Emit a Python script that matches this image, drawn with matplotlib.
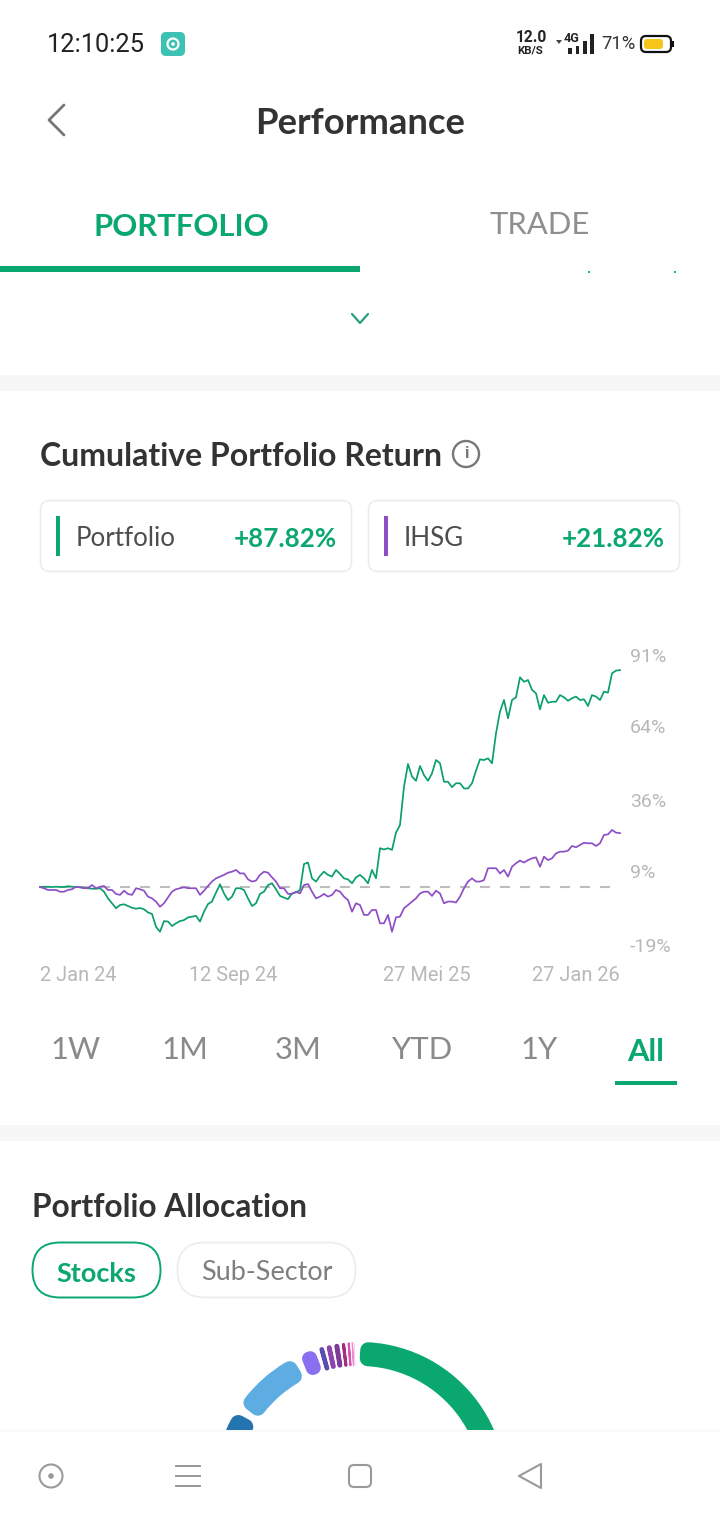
import numpy as np
import matplotlib
matplotlib.use("Agg")
import matplotlib.pyplot as plt
from matplotlib.patches import FancyBboxPatch, Wedge, Circle, Rectangle, Polygon

# ---------- data ----------
portfolio_pct = [
    0, .1, .1, 0, .1, 0, 0, .3, .1, 0,
    -.1, -.3, -.5, -.7, -.7, -.5, -1.9, -4.6, -6.6, -8.6,
    -7.3, -7.0, -7.7, -8.4, -8.8, -8.5, -9.0, -10.3, -10.9, -16.1,
    -18.1, -13.8, -14.0, -15.8, -14.7, -13.8, -13.4, -12.3, -12.0, -11.7,
    -14.0, -10.0, -6.9, -5.9, -2.3, 1.1, -2.6, -5.3, -3.9, -.5,
    -.5, -1.2, -4.6, -7.7, -6.6, -2.8, -1.9, .8, 1.5, -.9,
    -3.6, -4.3, -4.9, -2.6, -2.2, -1.2, 9.3, 9.9, 3.5, 2.2,
    4.5, 6.2, 4.9,
    4.2, 6.9, 5.3, 3.5, 3.1, 1.5, 3.9, 4.9, 3.5, 1.5,
    6.9, 3.5, 15.7, 15.2, 15.7, 15.0, 22.0, 25.1, 40.6, 49.8,
    44.7, 43.0, 49.0, 45.3, 43.0, 46.0, 51.4, 50.1, 42.6, 42.6,
    40.4, 42.0, 42.0, 39.9, 39.9, 42.0, 47.1, 51.7, 51.4, 52.1,
    50.1, 62.2, 71.0, 75.7, 68.3, 75.7, 76.8, 84.9, 83.1, 83.8,
    79.8, 78.4, 71.9, 77.7, 74.6, 75.0, 75.0, 77.7, 76.8, 75.4,
    76.4, 77.1, 75.7, 76.0, 73.3, 77.7, 77.1, 75.7, 79.1, 78.7,
    86.5, 87.6, 87.82,
]
ihsg_pct = [
    0, -.5, -1.2, -1.2, -1.2, -1.9, -1.9, -1.2, -.9, .1,
    -.1, -.5, -.5, .8, -.5, .1, .4, -1.2, -1.2, -2.8,
    -3.2, -1.5, -2.8, -3.2, -.5, -.9, -1.5, -3.9, -4.6, -5.9,
    -8.0, -6.6, -4.2, -1.9, -.9, -.5, -.1, -.5, -.5, -.5,
    -3.2, -1.5, .4, 2.2, 3.5, 4.2, 4.9, 5.8, 6.2, 6.9,
    5.5, 5.5, 3.1, 2.2, 2.6, 4.9, 6.2, 5.8, 3.9, 2.2,
    -.5, -.5, -2.8, -2.8, -1.9, -2.6, .8, 1.2, -1.9, -4.6,
    -3.9, -2.8, -3.9,
    -3.2, -1.2, -1.9, -3.9, -5.3, -10.0, -6.6, -7.3, -11.3, -11.3,
    -9.3, -9.3, -14.7, -14.7, -11.3, -18.1, -12.3, -12.0, -8.6, -7.3,
    -5.9, -4.6, -2.6, -1.9, -1.9, -3.6, -1.5, -2.6, -6.6, -5.9,
    -5.9, -6.3, -3.9, -.5, 2.2, 3.5, 2.2, 2.2, 2.8, 7.6,
    7.6, 7.6, 5.5, 6.9, 4.2, 8.2, 9.6, 10.7, 9.9, 10.9,
    11.6, 12.0, 8.2, 12.3, 10.9, 11.6, 13.6, 14.3, 14.3, 14.7,
    16.6, 16.1, 17.0, 17.9, 17.7, 17.7, 16.6, 17.7, 21.1, 21.3,
    23.1, 22.0, 21.82,
]
date_labels = ["2 Jan 24", "12 Sep 24", "27 Mei 25", "27 Jan 26"]
y_labels = [91, 64, 36, 9, -19]
ranges = ["1W", "1M", "3M", "YTD", "1Y", "All"]
alloc_share = [58.3, 25.9, 8.7, 2.4, .83, .86, .86, .66, .5, .3, .09]
alloc_colors = ["#0aa86f", "#2474b0", "#5dade2", "#8a70f0", "#5b4db0", "#8e44ad",
                "#7d3c98", "#a0307f", "#e04fb0", "#f08ad0", "#f8c8e8"]

GREEN = "#0aa86f"
LINEG = "#0a9f6c"
PURPLE = "#8e4ec6"
DARK = "#333333"
TICK = "#b8b8b8"
UI = "Lato"
NUM = "Roboto"
PT = 0.72

W, H = 720, 1520
fig = plt.figure(figsize=(W / 100, H / 100), dpi=100, facecolor="white")

def box(x0, y0, x1, y1):
    return [x0 / W, 1 - y1 / H, (x1 - x0) / W, (y1 - y0) / H]

ui = fig.add_axes([0, 0, 1, 1], zorder=0)
ui.set_xlim(0, W); ui.set_ylim(H, 0); ui.axis("off")

def txt(x, y, s, size, color=DARK, weight="normal", ha="left", family=UI, **kw):
    dy = 4 if family == UI else 2
    return ui.text(x, y + dy, s, fontsize=size * PT, color=color, fontweight=weight, ha=ha,
                   va="center", family=family, **kw)

def rrect(x0, y0, x1, y1, r, fc="white", ec="none", lw=1.0, z=1):
    p = FancyBboxPatch((x0 + r, y0 + r), x1 - x0 - 2 * r, y1 - y0 - 2 * r,
                       boxstyle=f"round,pad={r},rounding_size={r}", fc=fc, ec=ec, lw=lw, zorder=z)
    ui.add_patch(p)
    return p

# ---------- status bar ----------
txt(47, 43, "12:10:25", 25.5, color="#222222", family=NUM)
rrect(161, 32, 185, 56, 5, fc="#3cc2b4")
ui.add_patch(Circle((173, 44), 5.5, fc="none", ec="white", lw=1.6, zorder=2))
ui.add_patch(Circle((173, 44), 1.8, fc="white", ec="none", zorder=2))
txt(516, 36, "12.0", 15.5, color="#222222", weight="bold", family=NUM)
txt(517, 49, "KB/S", 11.5, color="#222222", weight="bold", family=NUM)
txt(564, 37, "4G", 12.5, color="#222222", weight="bold", family=NUM)
ui.add_patch(Polygon([[556, 40], [562, 40], [559, 44]], fc="#444444", ec="none"))
for x0, y0 in [(568, 48), (575.5, 46), (583, 41), (590, 34)]:
    ui.add_patch(Rectangle((x0, y0), 3.6, 53.5 - y0, fc="#222222", ec="none"))
txt(601, 42, "71%", 18.5, color="#333333", family=NUM)
rrect(641, 36, 671, 52, 5, fc="white", ec="#111111", lw=1.6)
rrect(644, 39, 663, 49, 3, fc="#f5c518")
ui.add_patch(Rectangle((672, 41), 2, 6, fc="#111111", ec="none"))

# ---------- header ----------
ui.plot([64, 49, 64], [105, 120, 135], color="#777777", lw=2.0, solid_capstyle="round", solid_joinstyle="round")
txt(360, 120, "Performance", 36.5, weight="bold", ha="center", color="#333333")
txt(181, 223, "PORTFOLIO", 31, color=GREEN, weight="bold", ha="center")
txt(540, 221, "TRADE", 31, color="#8f8f8f", ha="center")
ui.add_patch(Rectangle((0, 266), 360, 6, fc=GREEN, ec="none"))
for x in (589, 675):
    ui.add_patch(Rectangle((x - 1, 271), 2, 2, fc="#3aa98a", ec="none"))
ui.plot([352, 360, 368], [314, 323, 314], color="#2a9d7c", lw=1.6, solid_capstyle="round")
ui.add_patch(Rectangle((0, 375), W, 16, fc="#f7f7f7", ec="none"))
ui.add_patch(Rectangle((0, 1125), W, 16, fc="#f7f7f7", ec="none"))

# ---------- section heading / cards ----------
txt(40, 453, "Cumulative Portfolio Return", 32, weight="bold")
ui.add_patch(Circle((466, 454), 13, fc="none", ec="#777777", lw=1.7))
ui.text(466, 454, "i", fontsize=17 * PT, color="#777777", ha="center", va="center", family=NUM, fontweight="bold")

for x0, x1, col, name, val in [(40, 352, GREEN, "Portfolio", "+87.82%"),
                               (368, 680, PURPLE, "IHSG", "+21.82%")]:
    rrect(x0 + .5, 500.5, x1 - .5, 571.5, 9, ec="#ececec", lw=1.2)
    ui.add_patch(Rectangle((x0 + 16, 516), 4, 40, fc=col, ec="none", zorder=2))
    txt(x0 + 36, 535, name, 26, color="#4d4d4d")
    txt(x1 - 15, 535, val, 26, color=GREEN, weight="bold", ha="right")

# ---------- line chart ----------
ax = fig.add_axes(box(40, 640, 620, 950), zorder=2)
ax.patch.set_alpha(0)
n = len(portfolio_pct)
px_per_pct = 2.47
ax.set_xlim(0, n - 1)
ax.set_ylim((887 - 950) / px_per_pct, (887 - 640) / px_per_pct)
x = np.arange(n)
ax.plot([0, (n - 1) * 570 / 580], [0, 0], color="#bdbdbd", lw=1.5,
        dashes=(7.2 / 1.5, 7.2 / 1.5), zorder=1)
ax.plot(x, portfolio_pct, color=LINEG, lw=1.25, solid_joinstyle="round", clip_on=False, zorder=2)
ax.plot(np.arange(len(ihsg_pct)), ihsg_pct, color=PURPLE, lw=1.25, solid_joinstyle="round", clip_on=False, zorder=3)
for s in ax.spines.values():
    s.set_visible(False)
ax.set_yticks([])
ax.set_xticks([0, (n - 1) / 3, 2 * (n - 1) / 3, n - 1])
ax.set_xticklabels(date_labels, family=NUM, fontsize=20 * PT, color=TICK)
ax.tick_params(axis="x", length=0, pad=(974 - 950 - 8) * PT)
labs = ax.get_xticklabels()
labs[0].set_ha("left"); labs[-1].set_ha("right")

ay = ax.twinx()
ay.patch.set_alpha(0)
scale = (945 - 655) / 110
ay.set_ylim(-19 - (950 - 945) / scale, 91 + (655 - 640) / scale)
ay.set_yticks(y_labels)
ay.set_yticklabels([f"{v}%" for v in y_labels], family=NUM, fontsize=19.5 * PT, color=TICK)
ay.tick_params(axis="y", length=0, pad=10 * PT)
for s in ay.spines.values():
    s.set_visible(False)

# ---------- time range ----------
for xc, lab in zip([76, 185, 298, 422, 539, 646], ranges):
    if lab == "All":
        txt(xc, 1048, lab, 31, color=GREEN, weight="bold", ha="center")
    else:
        txt(xc, 1046, lab, 31, color="#8a8a8a", ha="center")
ui.add_patch(Rectangle((615, 1081), 62, 4, fc=GREEN, ec="none"))

# ---------- allocation ----------
txt(32, 1203.5, "Portfolio Allocation", 31.6, weight="bold")
rrect(32.5, 1242.5, 160.5, 1297.5, 27.5, ec=GREEN, lw=1.4)
txt(96.5, 1270, "Stocks", 27, color=GREEN, weight="bold", ha="center")
rrect(177.5, 1242.5, 355.5, 1297.5, 27.5, ec="#ececec", lw=1.2)
txt(266.5, 1269, "Sub-Sector", 27, color="#7f7f7f", ha="center")

cx, cy, R_out, R_in = 360, 1488, 146, 122
start = 0.0
for share, col in zip(alloc_share, alloc_colors):
    span = share * 3.6
    gap = 3.2 if share > 3 else (2.2 if share > 2 else min(1.0, span * 0.45))
    a1, a2 = start + gap / 2, start + span - gap / 2
    if start == 0.0:
        a1 = start
    arc_px = np.radians(a2 - a1) * (R_out + R_in) / 2
    pad = min(8, arc_px * 0.45)
    dth = np.degrees(pad / ((R_out + R_in) / 2))
    ui.add_patch(Wedge((cx, cy), R_out - pad, a1 + dth - 90, a2 - dth - 90,
                       width=R_out - R_in - 2 * pad, fc=col, ec=col, lw=2 * pad * PT,
                       joinstyle="round", zorder=1.5))
    start += span

# ---------- nav bar ----------
ui.add_patch(Rectangle((0, 1432), W, 88, fc="white", ec="none", zorder=5))
ui.add_patch(Rectangle((0, 1430), W, 2, fc="#fafafa", ec="none", zorder=5))
NAV = "#9a9a9a"
ui.add_patch(Circle((51, 1476), 11.5, fc="none", ec=NAV, lw=1.5, zorder=6))
ui.add_patch(Circle((51, 1476), 2.8, fc=NAV, ec="none", zorder=6))
for yy in (1466, 1476, 1486):
    ui.add_patch(Rectangle((175, yy - 1), 26, 2, fc=NAV, ec="none", zorder=6))
rrect(349, 1465, 371, 1487, 5, fc="none", ec=NAV, lw=1.5, z=6)
ui.add_patch(Polygon([[541, 1464], [519, 1476], [541, 1488]], closed=True, fc="none", ec=NAV, lw=1.5,
                     joinstyle="round", zorder=6))

fig.savefig("out.png", dpi=100, facecolor="white")
